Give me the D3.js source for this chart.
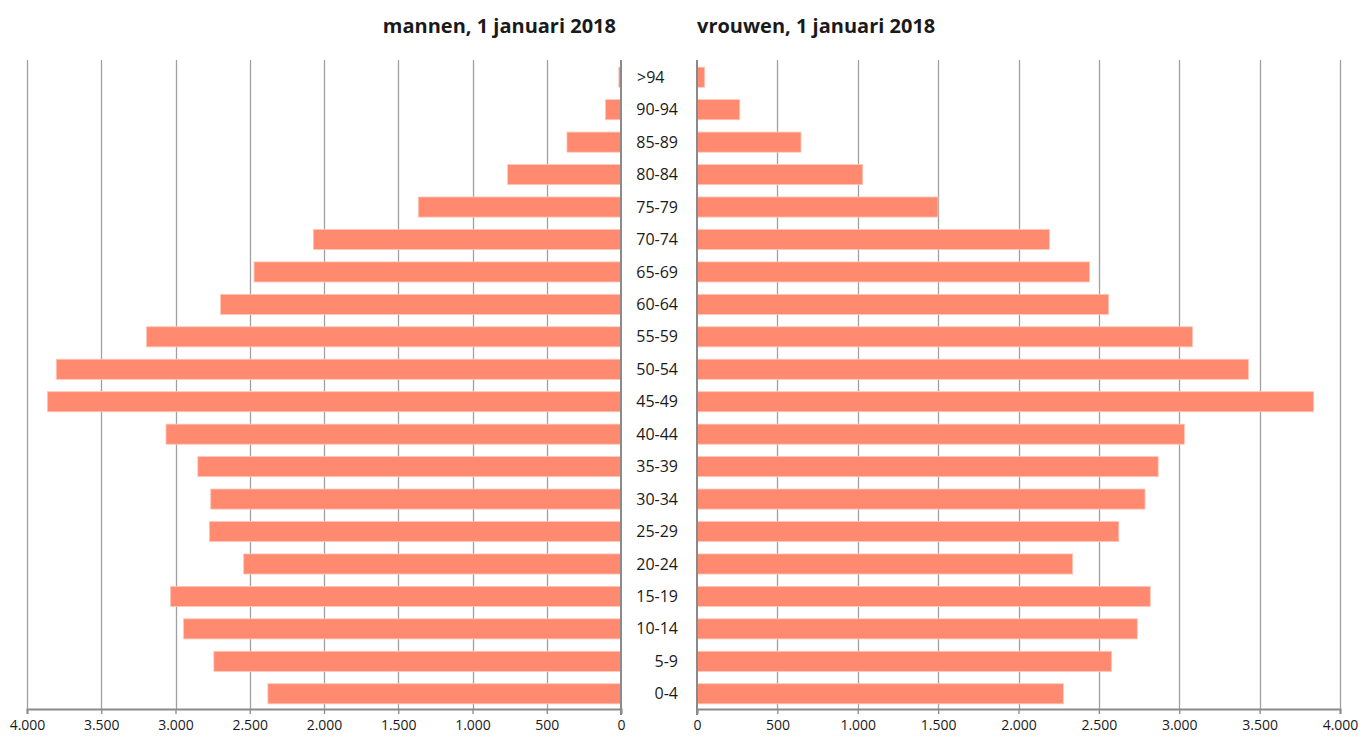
<!DOCTYPE html>
<html>
<head>
<meta charset="utf-8">
<script src="https://cdn.jsdelivr.net/npm/d3@7"></script>
<style>
  html, body { margin: 0; padding: 0; background: #fff; }
  svg { display: block; }
  text { font-family: "Open Sans", "Noto Sans", sans-serif; fill: #1a1a1a; }
</style>
</head>
<body>
<svg id="chart" width="1362" height="740"></svg>
<script>
// ---- data ----
const ageGroups = [">94","90-94","85-89","80-84","75-79","70-74","65-69","60-64","55-59","50-54","45-49","40-44","35-39","30-34","25-29","20-24","15-19","10-14","5-9","0-4"];
const menValues   = [15, 105, 364, 764, 1365, 2072, 2471, 2697, 3196, 3803, 3863, 3064, 2850, 2763, 2772, 2541, 3034, 2946, 2742, 2378];
const womenValues = [48, 266, 647, 1031, 1499, 2192, 2442, 2561, 3083, 3431, 3836, 3032, 2869, 2787, 2624, 2337, 2820, 2739, 2579, 2279];
const tickValues  = [0, 500, 1000, 1500, 2000, 2500, 3000, 3500, 4000];
const titleMen   = "mannen, 1 januari 2018";
const titleWomen = "vrouwen, 1 januari 2018";

// ---- layout ----
const svg = d3.select("#chart");
const yTop = 61, yBottom = 710;
const barColor = "#ff8a70";
const gridColor = "#a0a0a0";
const axisColor = "#8a8a8a";

const y = d3.scaleBand().domain(ageGroups).range([yTop, yBottom]).paddingInner(0.38).paddingOuter(0.19);
const xMen = d3.scaleLinear().domain([0, 4000]).range([621, 27]);
const xWomen = d3.scaleLinear().domain([0, 4000]).range([697, 1340]);

const fmt = v => d3.format(",")(v).replace(/,/g, ".");

function panel(x, values, title, isLeft) {
  const g = svg.append("g");
  // gridlines
  g.selectAll("line.grid").data(tickValues.filter(v => v > 0)).join("line")
    .attr("x1", d => Math.round(x(d)) + 0.5).attr("x2", d => Math.round(x(d)) + 0.5)
    .attr("y1", 60).attr("y2", yBottom)
    .attr("stroke", gridColor).attr("stroke-width", 1.3);
  // bars
  g.selectAll("rect").data(ageGroups).join("rect")
    .attr("x", (d, i) => Math.min(x(0), x(values[i])))
    .attr("width", (d, i) => Math.abs(x(values[i]) - x(0)))
    .attr("y", d => y(d))
    .attr("height", y.bandwidth())
    .attr("fill", barColor)
    .attr("stroke", "#ffc9bb").attr("stroke-width", 0.8);
  // zero axis line
  g.append("line")
    .attr("x1", x(0)).attr("x2", x(0)).attr("y1", 60).attr("y2", yBottom + 5)
    .attr("stroke", axisColor).attr("stroke-width", 2);
  // bottom axis
  const axis = d3.axisBottom(x).tickValues(tickValues).tickSize(5).tickFormat(fmt);
  const ag = g.append("g").attr("transform", `translate(0,${yBottom - 1})`).call(axis);
  ag.select(".domain").attr("stroke", axisColor).attr("stroke-width", 2);
  ag.selectAll(".tick line").attr("stroke", axisColor).attr("stroke-width", 1.3);
  ag.selectAll(".tick text").attr("font-family", "Open Sans, sans-serif")
    .attr("font-size", 14).attr("fill", "#1a1a1a").attr("y", 11).attr("dy", "0.71em");
  // title
  svg.append("text")
    .attr("x", isLeft ? 616 : 697).attr("y", 33)
    .attr("text-anchor", isLeft ? "end" : "start")
    .attr("font-size", 20).attr("font-weight", "bold")
    .text(title);
}

panel(xMen, menValues, titleMen, true);
panel(xWomen, womenValues, titleWomen, false);

// category labels in the middle
svg.append("g").selectAll("text").data(ageGroups).join("text")
  .attr("x", d => d.startsWith(">") ? 637 : 678)
  .attr("text-anchor", d => d.startsWith(">") ? "start" : "end")
  .attr("y", d => y(d) + y.bandwidth() / 2)
  .attr("dy", "0.35em")
  .attr("font-size", 16)
  .text(d => d);
</script>
</body>
</html>
